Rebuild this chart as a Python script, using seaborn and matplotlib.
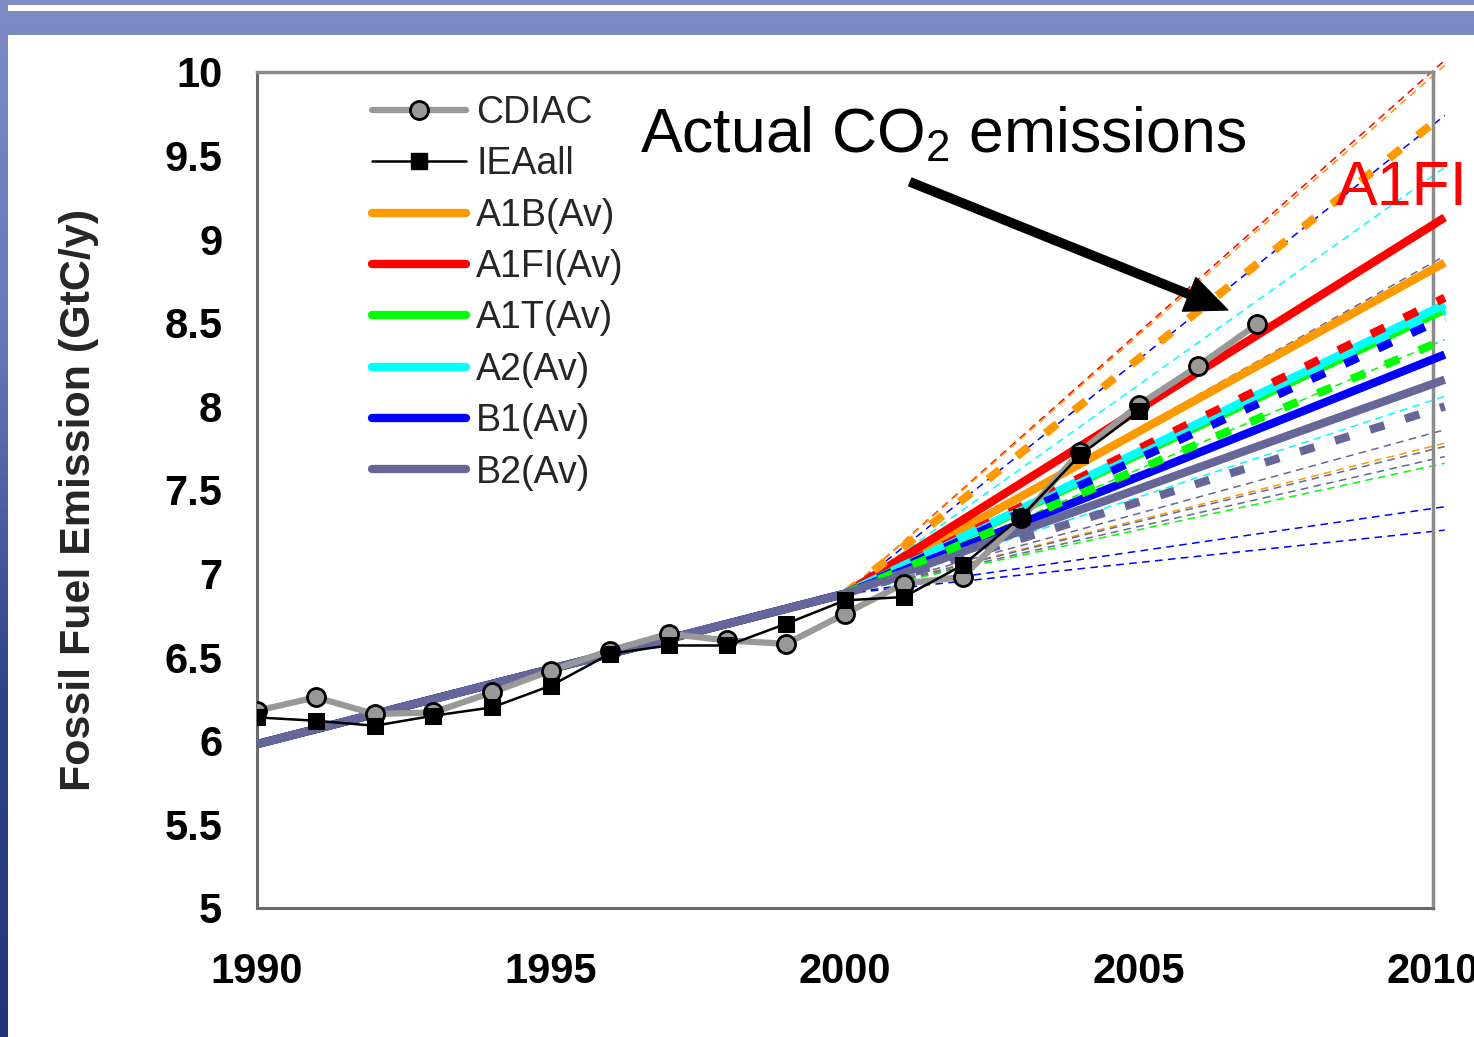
import numpy as np
import matplotlib
matplotlib.use('Agg')
import matplotlib.pyplot as plt
from matplotlib.lines import Line2D
from matplotlib.patches import Rectangle
from matplotlib.colors import LinearSegmentedColormap
import seaborn as sns

# observed fossil fuel emissions (GtC/y)
cdiac_years = list(range(1990, 2008))
cdiac_values = [6.18, 6.26, 6.16, 6.17, 6.29, 6.42, 6.54, 6.64, 6.60, 6.58,
                6.76, 6.94, 6.98, 7.33, 7.73, 8.01, 8.24, 8.49]
iea_years = list(range(1990, 2006))
iea_values = [6.14, 6.12, 6.09, 6.15, 6.20, 6.33, 6.52, 6.57, 6.57, 6.70,
              6.84, 6.86, 7.05, 7.34, 7.71, 7.97]

# SRES family averages (solid): 1990, 2000, end of window
scen_years = [1990, 2000, 2010.2]
scen_names = ['A1B(Av)', 'A1FI(Av)', 'A1T(Av)', 'A2(Av)', 'B1(Av)', 'B2(Av)']
scen_colors = ['#ff9900', '#ff0000', '#00ff00', '#00ffff', '#0000ff', '#666699']
scen_start = [5.98, 6.88]
scen_end = [8.86, 9.13, 8.58, 8.61, 8.31, 8.16]

# marker scenarios (thick dashed), 2000 -> end of window
marker_years = [2000, 2010.2]
marker_colors = ['#ff9900', '#ff0000', '#00ffff', '#0000ff', '#00ff00', '#666699']
marker_end = [9.75, 8.65, 8.57, 8.53, 8.40, 8.00]

# individual scenarios (thin dashed), 2000 -> end of window
indiv_colors = ['#ff0000', '#ff9900', '#0000ff', '#00ffff', '#666699', '#00ff00',
                '#ff9900', '#00ffff', '#666699', '#ff9900', '#666699', '#666699',
                '#00ff00', '#0000ff', '#0000ff']
indiv_end = [10.07, 10.04, 9.74, 9.43, 8.90, 8.40, 8.30, 8.06, 7.86, 7.78,
             7.76, 7.70, 7.66, 7.40, 7.26]

year_ticks = [1990, 1995, 2000, 2005, 2010]
value_ticks = [5, 5.5, 6, 6.5, 7, 7.5, 8, 8.5, 9, 9.5, 10]
value_labels = ['5', '5.5', '6', '6.5', '7', '7.5', '8', '8.5', '9', '9.5', '10']

sns.set_theme(style='white')
plt.rcParams['font.family'] = ['Liberation Sans', 'DejaVu Sans']
plt.rcParams['mathtext.default'] = 'regular'

fig = plt.figure(figsize=(14.74, 10.37), dpi=100)

# slide background
bg = fig.add_axes([0, 0, 1, 1], zorder=-10)
grad = np.linspace(0, 1, 256).reshape(-1, 1) * np.ones((1, 64))
cmap = LinearSegmentedColormap.from_list('slide', ['#7d8cc4', '#6677b8', '#2f4388', '#22357a'])
bg.imshow(grad, aspect='auto', cmap=cmap, extent=[0, 1, 0, 1])
bg.add_patch(Rectangle((8 / 1474, 0), 1, (1037 - 35) / 1037, color='white', lw=0))
bg.add_patch(Rectangle((8 / 1474, (1037 - 11) / 1037), 1, 6 / 1037, color='white', lw=0))
bg.set_xlim(0, 1)
bg.set_ylim(0, 1)
bg.axis('off')

ax = fig.add_axes([257 / 1474, 129 / 1037, 1176 / 1474, 836 / 1037])
ax.set_facecolor('white')

# individual scenarios
for c, v in zip(indiv_colors, indiv_end):
    ax.plot(marker_years, [scen_start[1], v], color=c, lw=1.1,
            linestyle=(0, (5, 3.5)), clip_on=False, zorder=2)

# family averages
for name, c, v in zip(scen_names, scen_colors, scen_end):
    sns.lineplot(x=scen_years, y=scen_start + [v], color=c, lw=6, ax=ax,
                 clip_on=False, zorder=3, solid_capstyle='butt')

# marker scenarios
for c, v in zip(marker_colors, marker_end):
    ax.plot(marker_years, [scen_start[1], v], color=c, lw=6,
            linestyle=(0, (1.8, 2.6)), clip_on=False, zorder=4)

# observations
sns.lineplot(x=cdiac_years, y=cdiac_values, color='#999999', lw=4.5, marker='o',
             markersize=13, markerfacecolor='#999999', markeredgecolor='black',
             markeredgewidth=2, ax=ax, zorder=5)
sns.lineplot(x=iea_years, y=iea_values, color='black', lw=1.8, marker='s',
             markersize=12, markerfacecolor='black', markeredgecolor='black', ax=ax, zorder=6)

ax.set_xlim(1990, 2010)
ax.set_ylim(5, 10)
ax.set_xticks(year_ticks)
ax.set_xticklabels([str(y) for y in year_ticks])
ax.set_yticks(value_ticks)
ax.set_yticklabels(value_labels)
ax.tick_params(axis='both', direction='out', length=10, width=1.2, color='#404040',
               labelsize=30, labelcolor='black')
ax.tick_params(axis='y', pad=15)
ax.tick_params(axis='x', pad=22)
for lab in ax.get_xticklabels() + ax.get_yticklabels():
    lab.set_fontweight('bold')
for side in ['top', 'right']:
    ax.spines[side].set_color('#8c8c8c')
    ax.spines[side].set_linewidth(2.5)
for side in ['left', 'bottom']:
    ax.spines[side].set_color('#6a6a6a')
    ax.spines[side].set_linewidth(2.2)

ax.set_xlabel('')
ax.set_ylabel('Fossil Fuel Emission (GtC/y)', fontsize=31, fontweight='bold')
ax.yaxis.set_label_coords(-0.134, 0.488)

handles = [
    Line2D([], [], color='#999999', lw=4.5, marker='o', markersize=13,
           markerfacecolor='#999999', markeredgecolor='black', markeredgewidth=2),
    Line2D([], [], color='black', lw=1.8, marker='s', markersize=12,
           markerfacecolor='black'),
] + [Line2D([], [], color=c, lw=6, solid_capstyle='round') for c in scen_colors]
labels = ['CDIAC', 'IEAall'] + scen_names
ax.legend(handles, labels, loc='upper left', bbox_to_anchor=(0.098, 0.9725),
          frameon=False, fontsize=27, handlelength=2.5, handletextpad=0.27,
          labelspacing=0.41, borderpad=0, borderaxespad=0)

ax.annotate('', xy=(2006.51, 8.577), xytext=(2001.11, 9.342),
            arrowprops=dict(facecolor='black', edgecolor='black', width=6,
                            headwidth=26, headlength=30, shrink=0), zorder=7)
ax.text(1996.51, 9.52, 'Actual CO$_2$ emissions', fontsize=45,
        ha='left', va='baseline', color='black', zorder=7)
ax.text(2010.6, 9.205, 'A1FI', fontsize=45, ha='right', va='baseline',
        color='#ff0000', zorder=8, clip_on=False)

fig.savefig('out.png', dpi=100)
